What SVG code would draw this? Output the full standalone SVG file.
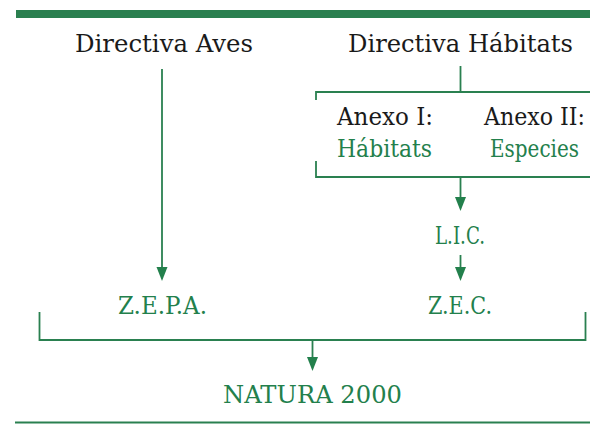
<svg xmlns="http://www.w3.org/2000/svg" width="590" height="424" viewBox="0 0 590 424">
<style>
text{font-family:"DejaVu Serif","Liberation Serif",serif;font-size:24px;}
.k{fill:#1a1a1a;}
.g{fill:#23804c;}
.ln{fill:none;stroke:#2a8050;stroke-width:1.8;}
.ah{fill:#23804c;}
</style>
<rect x="16" y="10" width="574" height="8" fill="#2a7f4f"/>
<line x1="15" y1="422.5" x2="590" y2="422.5" stroke="#2a8050" stroke-width="1.8"/>
<g id="directiva-aves"><text class="k" x="75" y="52" textLength="178" lengthAdjust="spacingAndGlyphs">Directiva Aves</text></g>
<g id="directiva-habitats"><text class="k" x="348" y="52" textLength="225" lengthAdjust="spacingAndGlyphs">Directiva Hábitats</text></g>
<g id="anexo-i"><text class="k" x="337" y="125" textLength="96" lengthAdjust="spacingAndGlyphs">Anexo I:</text><text class="g" x="337" y="157" textLength="95" lengthAdjust="spacingAndGlyphs">Hábitats</text></g>
<g id="anexo-ii"><text class="k" x="484" y="125" textLength="101" lengthAdjust="spacingAndGlyphs">Anexo II:</text><text class="g" x="490" y="157" textLength="89" lengthAdjust="spacingAndGlyphs">Especies</text></g>
<g id="lic"><text class="g" x="435" y="244" textLength="50" lengthAdjust="spacingAndGlyphs">L.I.C.</text></g>
<g id="zepa"><text class="g" x="118" y="314" textLength="89" lengthAdjust="spacingAndGlyphs">Z.E.P.A.</text></g>
<g id="zec"><text class="g" x="428" y="314" textLength="64" lengthAdjust="spacingAndGlyphs">Z.E.C.</text></g>
<g id="natura"><text class="g" x="223" y="403" textLength="179" lengthAdjust="spacingAndGlyphs">NATURA 2000</text></g>
<g id="connectors">
<path class="ln" d="M162,69 V268"/>
<path class="ah" d="M156.5,267 L167.5,267 L162,281 Z"/>
<path class="ln" d="M460.5,66 V92 M316,100 V92 H590 M316,161 V177 H590 M460.5,177 V198"/>
<path class="ah" d="M455,197 L466,197 L460.5,211 Z"/>
<path class="ln" d="M460.5,255 V268"/>
<path class="ah" d="M455,267 L466,267 L460.5,281 Z"/>
<path class="ln" d="M39.5,312 V340 H585.5 V312 M312.5,340 V358"/>
<path class="ah" d="M307,357 L318,357 L312.5,371 Z"/>
</g>
</svg>
